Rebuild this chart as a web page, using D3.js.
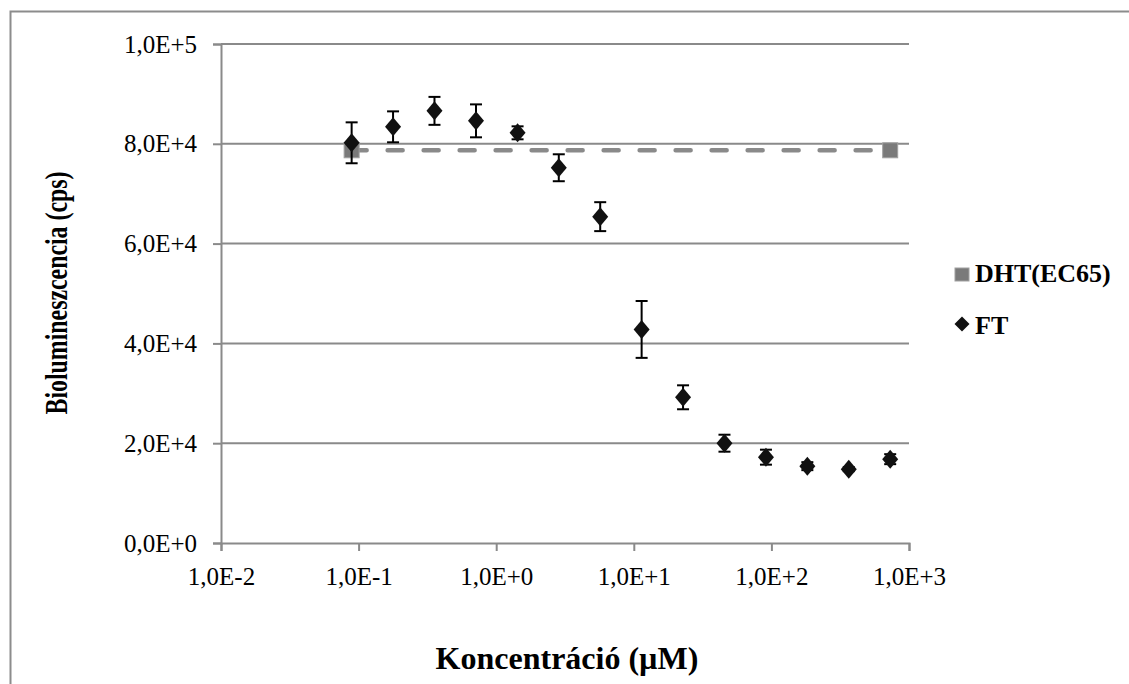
<!DOCTYPE html>
<html><head><meta charset="utf-8">
<script src="https://cdn.jsdelivr.net/npm/d3@7"></script>
<style>body{margin:0;background:#fff}svg{display:block}svg text{font-family:"Liberation Serif","Tinos","Times New Roman","DejaVu Serif",serif !important}</style>
</head><body><svg id="c" width="1129" height="684"></svg>
<script>
const concentrations = [0.089, 0.178, 0.356, 0.713, 1.43, 2.85, 5.70, 11.4, 22.8, 45.6, 91.3, 182.5, 365, 730];
const ftValues = [80200, 83400, 86600, 84600, 82200, 75200, 65400, 42800, 29200, 20000, 17200, 15400, 14800, 16800];
const ftErrors = [4100, 3100, 2800, 3300, 1300, 2700, 2900, 5700, 2400, 1700, 1500, 800, 400, 1000];
const dhtConc = [0.089, 730];
const dhtValues = [78700, 78700];
const xTicks = [0.01, 0.1, 1, 10, 100, 1000];
const xTickLabels = ["1,0E-2", "1,0E-1", "1,0E+0", "1,0E+1", "1,0E+2", "1,0E+3"];
const yTicks = [0, 20000, 40000, 60000, 80000, 100000];
const yTickLabels = ["0,0E+0", "2,0E+4", "4,0E+4", "6,0E+4", "8,0E+4", "1,0E+5"];
const seriesNames = ["DHT(EC65)", "FT"];

const FONT = "'Liberation Serif', 'Tinos', 'Times New Roman', 'DejaVu Serif', serif";
const svg = d3.select("#c");
svg.append("path").attr("d","M10.5,684 V11.5 H1129").attr("fill","none").attr("stroke","#8c8c8c").attr("stroke-width",2);

const x = d3.scaleLog().domain([0.01, 1000]).range([221, 909]);
const y = d3.scaleLinear().domain([0, 100000]).range([543, 44]);
const grid = "#8a8a8a";

svg.append("g").selectAll("line").data(yTicks.slice(1)).join("line")
  .attr("x1", 221).attr("x2", 909).attr("y1", d=>y(d)).attr("y2", d=>y(d))
  .attr("stroke", grid).attr("stroke-width", 2);

const yAxis = svg.append("g").attr("transform","translate(221,0)")
  .call(d3.axisLeft(y).tickValues(yTicks).tickSize(8).tickPadding(16).tickFormat((d,i)=>yTickLabels[i]));
yAxis.attr("font-family", FONT).attr("font-size", 25);
yAxis.select(".domain").attr("stroke", grid).attr("stroke-width", 2);
yAxis.selectAll(".tick line").attr("stroke", grid).attr("stroke-width", 2);
yAxis.selectAll("text").attr("fill","#000");

const xAxis = svg.append("g").attr("transform","translate(0,543)")
  .call(d3.axisBottom(x).tickValues(xTicks).tickSize(8).tickPadding(16).tickFormat((d,i)=>xTickLabels[i]));
xAxis.attr("font-family", FONT).attr("font-size", 25);
xAxis.select(".domain").attr("stroke", grid).attr("stroke-width", 2);
xAxis.selectAll(".tick line").attr("stroke", grid).attr("stroke-width", 2);
xAxis.selectAll("text").attr("fill","#000");

svg.append("path").datum(dhtConc.map((c,i)=>[c, dhtValues[i]]))
  .attr("d", d3.line().x(d=>x(d[0])).y(d=>y(d[1])))
  .attr("fill","none").attr("stroke","#8a8a8a").attr("stroke-width",4.5)
  .attr("stroke-dasharray","15 21").attr("stroke-linecap","round");
svg.append("g").selectAll("rect").data(dhtConc).join("rect")
  .attr("x", (d)=>x(d)-7.5).attr("y",(d,i)=>y(dhtValues[i])-7.5).attr("width",15).attr("height",15)
  .attr("fill","#7a7a7a").attr("stroke","#a0a0a0").attr("stroke-width",1);

const eb = svg.append("g").attr("stroke","#000").attr("stroke-width",2);
concentrations.forEach((c,i)=>{
  const cx = x(c), top = y(ftValues[i]+ftErrors[i]), bot = y(ftValues[i]-ftErrors[i]);
  eb.append("line").attr("x1",cx).attr("x2",cx).attr("y1",top).attr("y2",bot);
  eb.append("line").attr("x1",cx-6).attr("x2",cx+6).attr("y1",top).attr("y2",top);
  eb.append("line").attr("x1",cx-6).attr("x2",cx+6).attr("y1",bot).attr("y2",bot);
});
const diamond = (w,h)=>`M0,${-h/2} L${w/2},0 L0,${h/2} L${-w/2},0 Z`;
svg.append("g").selectAll("path").data(concentrations).join("path")
  .attr("transform",(d,i)=>`translate(${x(d)},${y(ftValues[i])})`)
  .attr("d", diamond(16,19)).attr("fill","#111");

const lg = svg.append("g").attr("font-family", FONT);
lg.append("rect").attr("x",955).attr("y",268).attr("width",14).attr("height",13).attr("fill","#7a7a7a").attr("stroke","#a0a0a0");
lg.append("text").attr("x",975).attr("y",282).attr("font-size",26).attr("font-weight","bold").text(seriesNames[0]);
lg.append("path").attr("transform","translate(962,324)").attr("d",diamond(15,15)).attr("fill","#111");
lg.append("text").attr("x",975).attr("y",334).attr("font-size",26).attr("font-weight","bold").text(seriesNames[1]);

svg.append("text").attr("font-family", FONT).attr("transform","translate(67,293) rotate(-90)").attr("text-anchor","middle")
  .attr("font-size",31).attr("font-weight","bold").attr("textLength",243).attr("lengthAdjust","spacingAndGlyphs")
  .text("Biolumineszcencia (cps)");
svg.append("text").attr("font-family", FONT).attr("x",567).attr("y",669).attr("text-anchor","middle")
  .attr("font-size",32).attr("font-weight","bold").text("Koncentráció (µM)");
</script></body></html>
